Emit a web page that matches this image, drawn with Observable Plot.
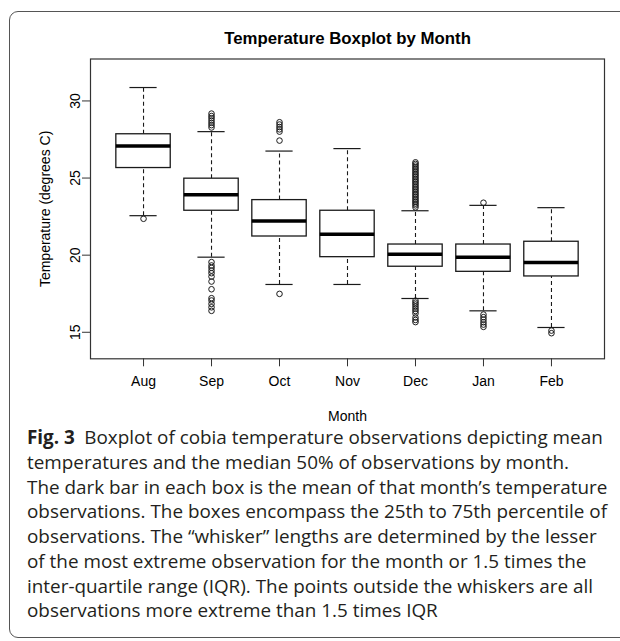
<!DOCTYPE html>
<html><head><meta charset="utf-8">
<script src="https://cdn.jsdelivr.net/npm/d3@7"></script>
<script src="https://cdn.jsdelivr.net/npm/@observablehq/plot@0.6"></script>
<style>
html,body{margin:0;padding:0;background:#fff;width:620px;height:641px;overflow:hidden;position:relative;}
#card{position:absolute;left:9px;top:11px;width:700px;height:627px;border:1.3px solid #555;border-radius:9px 0 0 9px;box-sizing:border-box;}
#chart{position:absolute;left:0;top:0;}
#caption{position:absolute;left:27px;top:426px;font-family:"Open Sans","Noto Sans",sans-serif;color:#231f20;}
.ln{white-space:nowrap;}
.ln span{display:inline-block;}
</style></head>
<body>
<div id="card"></div>
<div id="chart"></div>
<div id="caption"></div>
<script>
// ---- data ----
const months = ["Aug","Sep","Oct","Nov","Dec","Jan","Feb"];
const whiskerLow  = [22.56, 19.87, 18.10, 18.10, 17.19, 16.39, 15.31];
const q1          = [25.65, 22.88, 21.21, 19.87, 19.25, 18.92, 18.62];
const median      = [27.08, 23.92, 22.21, 21.36, 20.06, 19.87, 19.53];
const q3          = [27.84, 24.96, 23.57, 22.88, 20.69, 20.69, 20.87];
const whiskerHigh = [30.87, 28.01, 26.75, 26.91, 22.88, 23.23, 23.08];
const outAug = [22.36];
const outSep = [29.18, 29.02, 28.88, 28.73, 28.58, 28.43, 28.28,
                19.55, 19.33, 19.18, 19.00, 18.83, 18.61, 18.29, 17.79, 17.21, 17.06, 16.84, 16.62, 16.39];
const outOct = [28.62, 28.47, 28.31, 28.16, 28.01, 27.43, 17.49];
const outNov = [];
const outDec = [26.02, 25.92, 25.81, 25.70, 25.60, 25.49, 25.38, 25.27, 25.17, 25.06, 24.95, 24.84,
                24.74, 24.63, 24.52, 24.41, 24.31, 24.20, 24.09, 23.98, 23.88, 23.77, 23.66, 23.55,
                23.45, 23.34, 23.23, 23.10,
                17.05, 16.92, 16.80, 16.66, 16.52, 16.38, 16.22, 15.96, 15.80, 15.66];
const outJan = [23.40, 16.15, 15.98, 15.82, 15.65, 15.50, 15.35];
const outFeb = [15.11, 14.94];
const yTicks = [15, 20, 25, 30];
const titleText = "Temperature Boxplot by Month";
const xLabel = "Month";
const yLabel = "Temperature (degrees C)";
const captionBold = "Fig. 3";
const captionLines = [
  "Boxplot of cobia temperature observations depicting mean",
  "temperatures and the median 50% of observations by month.",
  "The dark bar in each box is the mean of that month\u2019s temperature",
  "observations. The boxes encompass the 25th to 75th percentile of",
  "observations. The \u201cwhisker\u201d lengths are determined by the lesser",
  "of the most extreme observation for the month or 1.5 times the",
  "inter-quartile range (IQR). The points outside the whiskers are all",
  "observations more extreme than 1.5 times IQR"
];

// ---- tables ----
const stats = months.map((m, i) => ({
  month: m, pos: i + 1,
  lo: whiskerLow[i], q1: q1[i], med: median[i], q3: q3[i], hi: whiskerHigh[i]
}));
const outLists = [outAug, outSep, outOct, outNov, outDec, outJan, outFeb];
const outliers = outLists.flatMap((arr, i) => arr.map(v => ({pos: i + 1, v})));

const boxHalf = 0.4, capHalf = 0.2, ink = "#1a1a1a";

const chart = Plot.plot({
  width: 620, height: 430,
  marginLeft: 90, marginRight: 16, marginTop: 58.5, marginBottom: 71.7,
  x: {domain: [0.22, 7.78]},
  y: {domain: [13.28, 32.72]},
  style: {fontFamily: "'Liberation Sans', Arial, sans-serif", fontSize: "14px", color: "black", background: "transparent"},
  marks: [
    Plot.ruleX(stats, {x: "pos", y1: "q3", y2: "hi", stroke: ink, strokeWidth: 1.1, strokeDasharray: "4,3"}),
    Plot.ruleX(stats, {x: "pos", y1: "lo", y2: "q1", stroke: ink, strokeWidth: 1.1, strokeDasharray: "4,3"}),
    Plot.ruleY(stats, {y: "hi", x1: d => d.pos - capHalf, x2: d => d.pos + capHalf, stroke: ink, strokeWidth: 1.2}),
    Plot.ruleY(stats, {y: "lo", x1: d => d.pos - capHalf, x2: d => d.pos + capHalf, stroke: ink, strokeWidth: 1.2}),
    Plot.rect(stats, {x1: d => d.pos - boxHalf, x2: d => d.pos + boxHalf, y1: "q1", y2: "q3", fill: "white", stroke: ink, strokeWidth: 1.3}),
    Plot.ruleY(stats, {y: "med", x1: d => d.pos - boxHalf, x2: d => d.pos + boxHalf, stroke: "black", strokeWidth: 3.5}),
    Plot.dot(outliers, {x: "pos", y: "v", r: 2.8, stroke: ink, fill: "none", strokeWidth: 1}),
    Plot.frame({stroke: "#333", strokeWidth: 1.2}),
    Plot.axisX({ticks: stats.map(d => d.pos), tickFormat: d => months[d - 1], tickSize: 8, tickPadding: 9.5, label: null, stroke: "#333"}),
    Plot.axisY({ticks: yTicks, tickSize: 8, tickRotate: -90, tickPadding: 3, label: null, stroke: "#333"}),
    Plot.text([yLabel], {frameAnchor: "left", rotate: -90, dx: -45, textAnchor: "middle", lineAnchor: "middle", fontSize: 14}),
    Plot.text([xLabel], {frameAnchor: "bottom", dy: 58, textAnchor: "middle", lineAnchor: "middle", fontSize: 14}),
    Plot.text([titleText], {frameAnchor: "top", dy: -15.2, textAnchor: "middle", lineAnchor: "bottom", fontWeight: "bold", fontSize: 16.8})
  ]
});
document.getElementById("chart").appendChild(chart);

// ---- caption ----
const cap = document.getElementById("caption");
captionLines.forEach((t, i) => {
  const div = document.createElement("div");
  div.className = "ln";
  const span = document.createElement("span");
  if (i === 0) {
    const b = document.createElement("b");
    b.textContent = captionBold;
    b.style.fontWeight = "700";
    span.appendChild(b);
    span.appendChild(document.createTextNode("\u2002" + t));
  } else {
    span.textContent = t;
  }
  div.appendChild(span);
  cap.appendChild(div);
});
// fit first line to its width in the reference
let fs = 16;
cap.style.fontSize = fs + "px";
const w0 = cap.querySelector(".ln span").getBoundingClientRect().width;
fs = fs * 576 / w0;
const LH = 24.7;
cap.style.fontSize = fs + "px";
cap.style.lineHeight = LH + "px";
const firstBaseline = 445;
cap.style.top = (firstBaseline - ((LH - 1.362 * fs) / 2 + 1.069 * fs)) + "px";
</script>
</body></html>
